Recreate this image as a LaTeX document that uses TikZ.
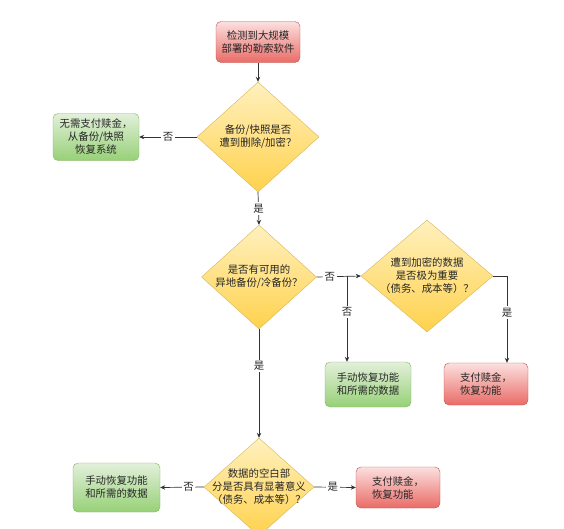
\documentclass[tikz,border=0pt]{standalone}
\usepackage{fontspec}
\setmainfont{Noto Sans CJK SC}
\usetikzlibrary{shapes.geometric,arrows.meta}
\definecolor{redline}{HTML}{B85450}
\definecolor{redtop}{HTML}{FBE0DF}
\definecolor{redbot}{HTML}{EA6B66}
\definecolor{greenline}{HTML}{82B366}
\definecolor{greentop}{HTML}{E2F0DA}
\definecolor{greenbot}{HTML}{97D077}
\definecolor{yline}{HTML}{D6B656}
\definecolor{ytop}{HTML}{FFF0BE}
\definecolor{ybot}{HTML}{FFD24D}
\tikzset{
  txt/.style={font=\fontsize{10.4}{13}\selectfont, text=black!85},
  redbox/.style={txt, draw=redline, top color=redtop, bottom color=redbot, rounded corners=5pt, minimum width=84pt, minimum height=41pt, inner sep=2pt},
  greenbox/.style={txt, draw=greenline, top color=greentop, bottom color=greenbot, rounded corners=5pt, minimum width=86pt, minimum height=47pt, inner sep=2pt, align=center},
  decision/.style={diamond, draw=yline, top color=ytop, bottom color=ybot, inner sep=0pt},
  dtext/.style={txt, align=center, inner sep=0pt},
  lbl/.style={txt, fill=white, inner sep=1.5pt},
  arr/.style={draw=black!80, line width=0.7pt, -{Stealth[length=5pt,width=4.5pt]}},
  ln/.style={draw=black!80, line width=0.7pt}
}
\begin{document}
\begin{tikzpicture}[x=1pt,y=-1pt]
\useasboundingbox (0,0) rectangle (564,528);
\clip (0,0) rectangle (564,528);

\node[redbox, align=center] (start) at (258,42) {检测到大规模\\部署的勒索软件};

\node[decision, minimum width=122pt, minimum height=110pt] (d1) at (258,137) {};
\node[dtext] (t1) at (d1) {备份/快照是否\\遭到删除/加密？};

\node[greenbox] (g1) at (96,137) {无需支付赎金，\\从备份/快照\\恢复系统};

\node[decision, minimum width=115pt, minimum height=104pt] (d2) at (259,277) {};
\node[dtext] (t2) at (d2) {是否有可用的\\异地备份/冷备份？};

\node[decision, minimum width=132pt, minimum height=112pt] (d3) at (427,276) {};
\node[dtext] (t3) at (d3) {遭到加密的数据\\是否极为重要\\（债务、成本等）？};

\node[greenbox, minimum height=45pt] (g2) at (368,384.5) {手动恢复功能\\和所需的数据};
\node[redbox, align=left, minimum height=42pt] (r2) at (486,384) {支付赎金，\\恢复功能};

\node[decision, minimum width=110pt, minimum height=98pt] (d4) at (259,487) {};
\node[dtext] (t4) at (d4) {数据的空白部\\分是否具有显著意义\\（债务、成本等）？};

\node[greenbox, minimum width=87pt, minimum height=49pt] (g3) at (116.5,487.5) {手动恢复功能\\和所需的数据};
\node[redbox, align=left] (r3) at (398,487.5) {支付赎金，\\恢复功能};

\coordinate (j) at (347,276);
\coordinate (c3) at (507,276);

\draw[arr] (start) -- (d1);
\draw[arr] (d1.west) -- node[lbl] {否} (g1.east);
\draw[arr] (d1.south) -- node[lbl] {是} (d2.north);
\draw[arr] (d2.east) -- node[lbl, pos=0.3] {否} (d3.west);
\draw[arr] (j) -- node[lbl, pos=0.42] {否} (j |- g2.north);
\draw[ln] (d3.east) -- (c3);
\draw[arr] (c3) -- node[lbl, pos=0.42] {是} (c3 |- r2.north);
\draw[arr] (d2.south) -- node[lbl, pos=0.34] {是} (d4.north);
\draw[arr] (d4.west) -- node[lbl, pos=0.35] {否} (g3.east);
\draw[arr] (d4.east) -- node[lbl, pos=0.45] {是} (r3.west);
\end{tikzpicture}
\end{document}
